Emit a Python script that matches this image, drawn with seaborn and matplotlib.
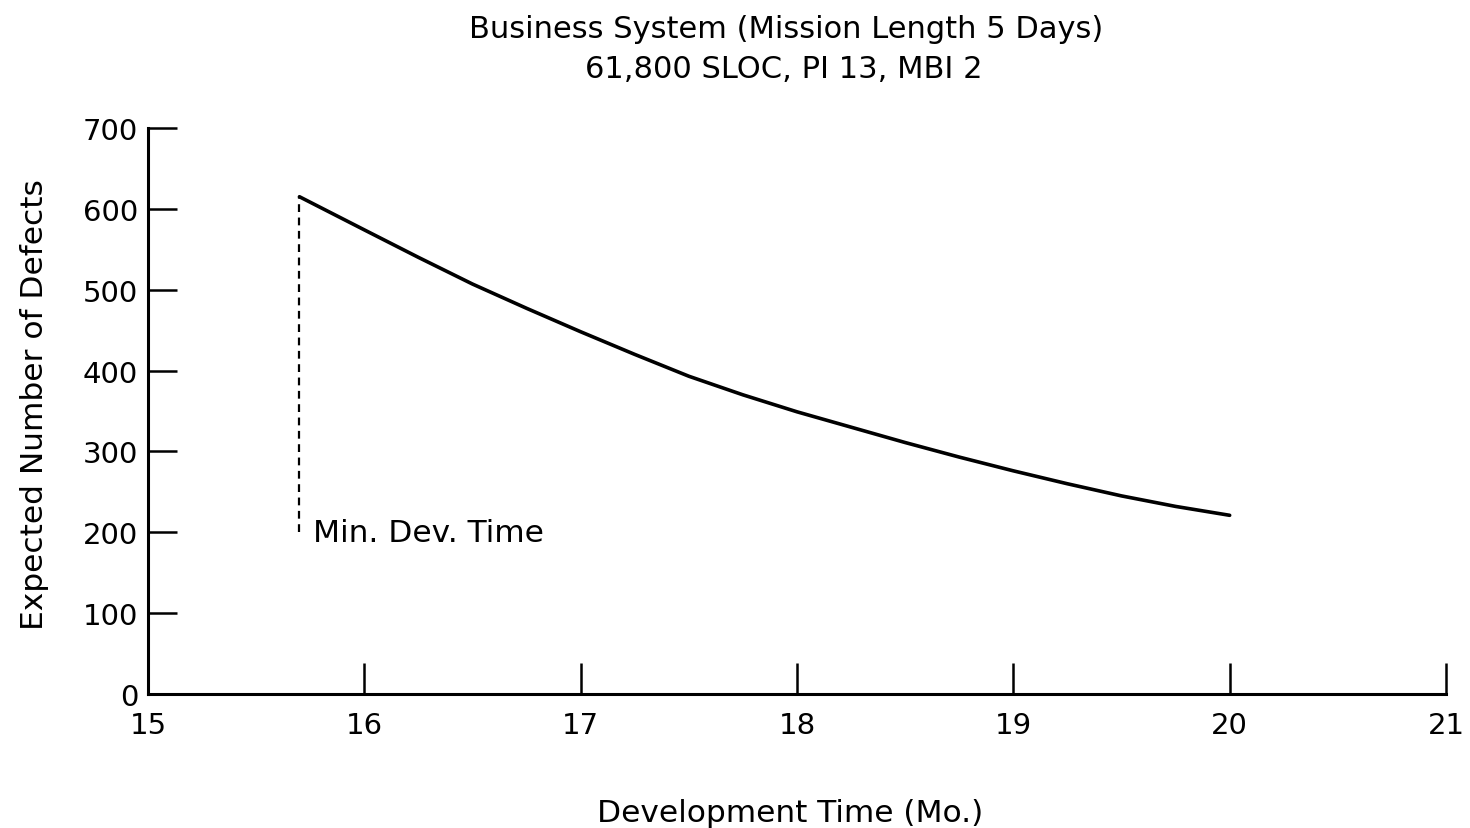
import matplotlib
matplotlib.use("Agg")
import matplotlib.pyplot as plt
import seaborn as sns
import pandas as pd

# Expected defects vs. development time for the business system
dev_time = [15.7, 16.0, 16.25, 16.5, 16.75, 17.0, 17.25, 17.5, 17.75,
            18.0, 18.25, 18.5, 18.75, 19.0, 19.25, 19.5, 19.75, 20.0]
defects = [615, 574, 540, 507, 477, 448, 420, 393, 370,
           349, 330, 311, 293, 276, 260, 245, 232, 221]

min_dev_time = 15.7
min_dev_label_level = 200

x_ticks = [15, 16, 17, 18, 19, 20, 21]
y_ticks = [0, 100, 200, 300, 400, 500, 600, 700]

title_line1 = "Business System (Mission Length 5 Days)"
title_line2 = "61,800 SLOC, PI 13, MBI 2"

sns.set_theme(style="ticks")
plt.rcParams["font.family"] = ["DejaVu Sans"]

df = pd.DataFrame({"time": dev_time, "defects": defects})

fig = plt.figure(figsize=(14.7, 8.29), dpi=100)
ax = fig.add_axes([148 / 1470, 1 - 695 / 829, 1298 / 1470, 566 / 829])

sns.lineplot(data=df, x="time", y="defects", ax=ax, color="black",
             linewidth=2.6, estimator=None, sort=True)

# Minimum development time marker
ax.plot([min_dev_time, min_dev_time], [min_dev_label_level, defects[0]],
        color="black", linestyle=(0, (3.5, 2.5)), linewidth=1.6)
ax.annotate("Min. Dev. Time", xy=(min_dev_time, min_dev_label_level),
            xytext=(10, 0), textcoords="offset points",
            ha="left", va="center", fontsize=22.5, color="black")

ax.set_xlim(15, 21)
ax.set_ylim(0, 700)
ax.set_xticks(x_ticks)
ax.set_yticks(y_ticks)
ax.set_xticklabels([str(t) for t in x_ticks])
ax.set_yticklabels([str(t) for t in y_ticks])

sns.despine(ax=ax, top=True, right=True)
for side in ("left", "bottom"):
    ax.spines[side].set_linewidth(2.2)
    ax.spines[side].set_color("black")

ax.tick_params(axis="x", direction="in", length=22, width=1.8,
               pad=12, labelsize=21, colors="black")
ax.tick_params(axis="y", direction="in", length=21, width=1.8,
               pad=7, labelsize=21, colors="black")
# the y axis stands in for the first x tick
ax.xaxis.get_major_ticks()[0].tick1line.set_visible(False)

ax.set_xlabel("Development Time (Mo.)", fontsize=22.5, color="black")
ax.set_ylabel("Expected Number of Defects", fontsize=22.5, color="black")
ax.xaxis.set_label_coords(0.4946, -0.183)
ax.yaxis.set_label_coords(-0.076, 0.514)

fig.text(786 / 1470, 1 - 30 / 829, title_line1, ha="center", va="center",
         fontsize=22, color="black")
fig.text(784 / 1470, 1 - 70 / 829, title_line2, ha="center", va="center",
         fontsize=22, color="black")

fig.savefig("out.png", dpi=100, facecolor="white")
